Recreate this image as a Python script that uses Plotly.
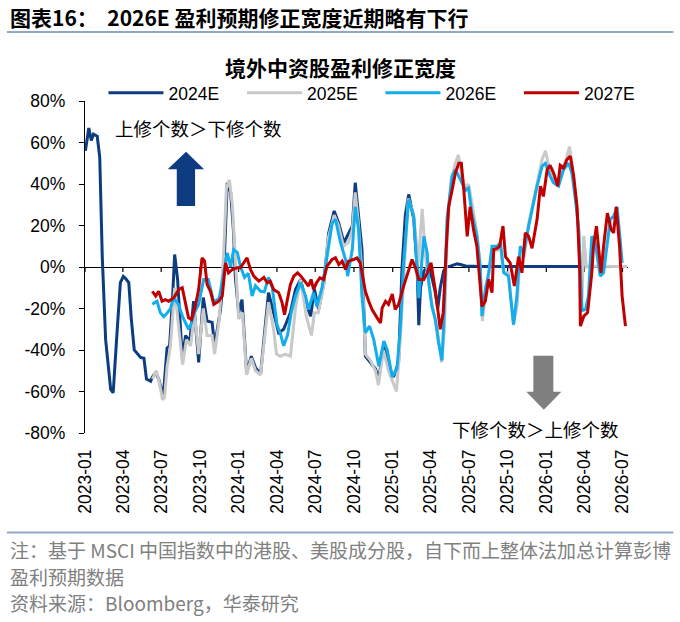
import pandas as pd
import plotly.graph_objects as go

START = pd.Timestamp("2023-01-01")

# ---- data: day offsets from 2023-01-01 and revision breadth values (%) ----
days_2024e = [1, 9, 15, 20, 29, 35, 41, 49, 61, 67, 75, 84, 91, 96, 104, 110, 117, 125, 132, 140,
              146, 156, 160, 168, 175, 179, 186, 195, 201, 208, 213, 220, 231, 239, 249, 258, 270, 281, 290, 302,
              308, 322, 330, 338, 346, 353, 357, 365, 373, 384, 395, 405, 417, 426, 436, 448, 460, 472, 488, 500,
              512, 528, 536, 545, 555, 567, 579, 592, 603, 615, 626, 635, 642, 650, 658, 666, 678, 690, 698, 710,
              721, 733, 745, 753, 761, 769, 781, 789, 793, 797, 805, 813, 824, 832, 838, 844, 852, 858, 868, 884,
              892, 904, 940, 1000, 1060, 1120, 1180, 1240, 1284]
vals_2024e = [56, 67, 61, 64, 63, 53, 5, -35, -59, -60.6, -35, -7.5, -4.6, -5.5, -7.5, -25, -40, -42, -43.6, -44,
              -54, -55, -53, -51, -54, -57, -62, -39, -38, -15, 6, -6, -43.6, -33, -36, -16.5, -46, -14.7, -26, -26.7,
              -38, -20.5, -1.2, 40.6, 36, 16.5, -4.4, -22, -15.7, -51, -43, -48.5, -51.8, -33, -12.4, -22, -31.7, -30, -22, -10.8,
              -6, -19, -23.7, -10.8, -20.5, -8.4, 16.5, 27, 21, 11.7, 16.5, 19.7, 40.6, 26, 8.4, -43, -46, -49, -54, -36.5,
              -47.8, -53, -46, -1, 25, 35, 23, 0, -28, -10, -2, 0, -5, -12, -20, -10, -2, 0, 0.4, 1.5,
              1.2, 0.5, 0.3, 0.3, 0.3, 0.3, 0.3, 0.3, 0.3]

days_2025e = [160, 170, 179, 184, 189, 195, 203, 213, 222, 232, 241, 251, 260, 270, 281, 290, 302, 308, 319, 329,
              336, 343, 350, 357, 365, 374, 384, 395, 405, 417, 426, 436, 448, 455, 464, 476, 488, 500, 512, 526,
              538, 545, 554, 566, 578, 592, 602, 614, 626, 635, 642, 649, 659, 666, 678, 690, 697, 709, 721, 733,
              740, 749, 759, 768, 780, 792, 801, 809, 818, 828, 837, 847, 854, 861, 870, 880, 887, 894, 904, 911,
              920, 932, 939, 944, 951, 958, 968, 980, 987, 994, 1006, 1018, 1027, 1034, 1044, 1053, 1063, 1075, 1086, 1094,
              1105, 1113, 1124, 1136, 1143, 1151, 1158, 1165, 1172, 1177, 1181, 1185, 1191, 1200, 1230, 1260, 1288]
vals_2025e = [-54, -50, -58, -64, -63, -48, -38, -10, -28, -47, -35, -38, -22, -42, -20, -33, -33, -42, -25, 5,
              38, 42, 30, 2, -25, -22, -52, -44, -50, -52, -36, -17, -30, -42, -43, -42, -43, -20, -6, -24,
              -33, -22, -22, -10, 14, 25, 20, 10, 12, 18, 36, 22, -5, -42, -45, -50, -57, -40, -50, -57,
              -60, -35, 2, 33, 26, 2, 28, 5, -10, -22, -30, -46, -30, 20, 42, 50, 54, 45, 38, 40,
              30, 15, 0, -26, -15, -5, 8, 8, 10, -2, -3, -28, -18, 8, 5, 20, 30, 42, 52, 56,
              46, 42, 42, 48, 52, 58, 48, 35, 20, 0, -15, 15, 0, 0.5, 0.3, 0.3, 0.3]

days_2026e = [160, 171, 179, 187, 196, 203, 211, 222, 232, 241, 246, 253, 260, 270, 282, 293, 300, 306, 319, 329,
              338, 346, 353, 362, 369, 379, 388, 397, 405, 417, 426, 436, 445, 456, 464, 472, 481, 490, 500, 512,
              524, 531, 543, 551, 563, 575, 587, 595, 607, 619, 624, 635, 642, 650, 658, 666, 676, 686, 698, 710,
              718, 730, 741, 749, 757, 769, 781, 793, 799, 805, 813, 816, 824, 832, 840, 848, 852, 860, 872, 880,
              892, 904, 911, 919, 931, 939, 943, 951, 959, 967, 979, 987, 995, 1006, 1018, 1026, 1034, 1042, 1054, 1062,
              1074, 1086, 1094, 1105, 1113, 1125, 1137, 1149, 1157, 1165, 1173, 1181, 1189, 1196, 1204, 1212, 1220, 1224, 1232, 1240,
              1248, 1256, 1264, 1272, 1276]
vals_2026e = [-18, -16.5, -22, -24, -22, -20, -15, -18, -24, -28, -30, -27, -22, -18, -6, -6, -12, -17, -15, -3,
              6.8, 0, 8.4, 7, 0.4, -5, -3, -14, -9, -11.7, -12, -5, -10, -27.7, -32, -38, -33, -22, -14, -7.5,
              -14, -20.5, -12.4, -19, -10, 5, 21, 23, 11.7, 3.6, -4.4, 8.4, 29, 18, -14, -31.7, -28.5, -35, -47.8, -35.7,
              -40, -53, -49, -30, 2, 32.5, 24.5, -15, 0, 14.8, 6.8, -6, -19, -25, -36.5, -45, -28.5, 23, 43.8, 47,
              42, 37, 38, 26, 14.8, 0, -23.7, -10.8, -2.8, 10, 10, 11.7, -2.8, -4.4, -27.7, -14, 10, 6.8, 19.7, 27.7,
              39, 48.6, 50, 43.8, 40.6, 39, 47, 50, 45, 32.5, 18, -21, -20.5, -14, 14.8, 11.7, 0, -4.4, -2.8, 11.7,
              23, 24.5, 29, 11.7, 2]

days_2027e = [160, 168, 175, 183, 191, 199, 211, 223, 231, 239, 246, 253, 262, 270, 278, 284, 290, 298, 306, 318,
              326, 334, 341, 350, 361, 369, 377, 385, 393, 401, 413, 425, 433, 440, 448, 460, 468, 474, 480, 488,
              496, 505, 513, 524, 531, 537, 543, 550, 558, 567, 575, 587, 595, 603, 611, 619, 626, 638, 646, 654,
              666, 674, 682, 694, 702, 706, 714, 721, 730, 737, 745, 757, 769, 777, 785, 793, 805, 813, 822, 832,
              844, 851, 858, 864, 872, 880, 888, 894, 900, 908, 915, 923, 931, 943, 951, 959, 967, 971, 979, 985,
              993, 999, 1010, 1020, 1030, 1038, 1046, 1054, 1062, 1074, 1082, 1089, 1098, 1105, 1113, 1123, 1129, 1137, 1145, 1153,
              1161, 1169, 1175, 1177, 1185, 1194, 1204, 1208, 1215, 1224, 1226, 1232, 1241, 1250, 1256, 1262, 1270, 1276, 1284]
vals_2027e = [-11.7, -14, -11.7, -16.5, -15.7, -16.5, -14.8, -10.8, -10, -17, -24.5, -25.3, -19, -10.8, 4.4, 2.8, -8.4, -11.7, -18, -16.5,
              -14, 2, -2.8, -1.2, -0.4, -0.4, 2, 4.4, -1.2, -4.4, -6.8, -5, -7.6, -6.8, -10.8, -12.4, -17, -23, -16.5, -8.4,
              -4.4, -2.8, -4.4, -7.6, -9.2, -6, -10.8, -7.6, -5.2, -6, 0.4, 3.6, 4.4, 1.2, 2.8, -1.2, 2.8, 3.6, 4.4, 2,
              -11.7, -16.5, -20.5, -24.5, -27, -19.7, -16.5, -18, -13, -20.5, -18, -9.2, -1.2, 3.6, -0.4, -6, -6, -2.8, 2, -10.8,
              -30, -22, 8.4, 29, 37, 45.4, 50, 50, 37, 14.8, 29, 18, 10, -19, -16.5, -6, -12.4, 8.4, 9, 10,
              19.7, 5, 2, -9.2, 5, -2.8, 16.5, 14.8, 9, 23, 39, 34, 47, 49, 45.4, 39, 49, 47.8, 51.8, 53.4,
              43.8, 29, 0.4, -28.5, -23.7, -22, -2.8, 10, 19.7, 0.4, -2.8, 10, 26, 18, 16.5, 29, 10, -14, -28.5]

series_names = ["2024E", "2025E", "2026E", "2027E"]
series_colors = ["#0D3C80", "#C9C9C9", "#14ADEB", "#C00000"]
series_days = [days_2024e, days_2025e, days_2026e, days_2027e]
series_vals = [vals_2024e, vals_2025e, vals_2026e, vals_2027e]

tick_labels = ["2023-01", "2023-04", "2023-07", "2023-10", "2024-01", "2024-04", "2024-07", "2024-10",
               "2025-01", "2025-04", "2025-07", "2025-10", "2026-01", "2026-04", "2026-07"]
tick_dates = [t + "-01" for t in tick_labels]
y_ticks = [-80, -60, -40, -20, 0, 20, 40, 60, 80]
y_ticktext = [f"{v}%" for v in y_ticks]

X_RANGE = ["2023-01-01", "2026-07-14"]

LATIN = "Liberation Sans, Arial, Noto Sans CJK SC, sans-serif"
CJK = "Noto Sans CJK SC, Liberation Sans, sans-serif"


def as_dates(days):
    return [(START + pd.Timedelta(days=d)).strftime("%Y-%m-%d") for d in days]


fig = go.Figure()
for name, color, d, v in zip(series_names, series_colors, series_days, series_vals):
    assert len(d) == len(v), (name, len(d), len(v))
    fig.add_trace(go.Scatter(x=as_dates(d), y=v, name=name, mode="lines",
                             line=dict(color=color, width=3), hoverinfo="skip"))

shapes = []
# small tick marks hanging below the zero line at each quarter
for t in tick_dates:
    shapes.append(dict(type="line", xref="x", yref="y", x0=t, x1=t,
                       ysizemode="pixel", yanchor=0, y0=0, y1=-5,
                       line=dict(color="black", width=1.2), layer="below"))
# header and footer rules
for yy in (1.2077, -0.300):
    shapes.append(dict(type="line", xref="paper", yref="paper", x0=-0.1438, x1=1.0837, y0=yy, y1=yy,
                       line=dict(color="#8FA8C8", width=2)))
# up arrow (navy)
shapes.append(dict(type="path", xref="paper", yref="paper",
                   path="M0.1861,0.8474 L0.2193,0.7945 L0.2027,0.7945 L0.2027,0.6840 "
                        "L0.1690,0.6840 L0.1690,0.7945 L0.1524,0.7945 Z",
                   fillcolor="#0D3C80", line=dict(width=0)))
# down arrow (grey)
shapes.append(dict(type="path", xref="paper", yref="paper",
                   path="M0.8257,0.2326 L0.8625,0.2326 L0.8625,0.1243 L0.8773,0.1243 "
                        "L0.8450,0.0701 L0.8128,0.1243 L0.8257,0.1243 Z",
                   fillcolor="#7F7F7F", line=dict(width=0)))

annotations = [
    dict(text="<b>图表16：  2026E 盈利预期修正宽度近期略有下行</b>", xref="paper", yref="paper",
         x=-0.1419, y=1.2528, xanchor="left", yanchor="middle", showarrow=False,
         font=dict(family=CJK, size=21, color="black")),
    dict(text="<b>境外中资股盈利修正宽度</b>", xref="paper", yref="paper",
         x=0.470, y=1.1023, xanchor="center", yanchor="middle", showarrow=False,
         font=dict(family=CJK, size=21, color="black")),
    dict(text="上修个数＞下修个数", xref="paper", yref="paper",
         x=0.2092, y=0.9188, xanchor="center", yanchor="middle", showarrow=False,
         font=dict(family=CJK, size=18.5, color="black")),
    dict(text="下修个数＞上修个数", xref="paper", yref="paper",
         x=0.8303, y=0.0129, xanchor="center", yanchor="middle", showarrow=False,
         font=dict(family=CJK, size=18.5, color="black")),
    dict(text="注：基于 MSCI 中国指数中的港股、美股成分股，自下而上整体法加总计算彭博", xref="paper", yref="paper",
         x=-0.1419, y=-0.3512, xanchor="left", yanchor="middle", showarrow=False,
         font=dict(family=CJK, size=19, color="#808080")),
    dict(text="盈利预期数据", xref="paper", yref="paper",
         x=-0.1419, y=-0.4325, xanchor="left", yanchor="middle", showarrow=False,
         font=dict(family=CJK, size=19, color="#808080")),
    dict(text="资料来源：Bloomberg，华泰研究", xref="paper", yref="paper",
         x=-0.1419, y=-0.5107, xanchor="left", yanchor="middle", showarrow=False,
         font=dict(family=CJK, size=19, color="#808080")),
]

fig.update_layout(
    width=680, height=622,
    margin=dict(l=85, r=52, t=101, b=189, autoexpand=False),
    paper_bgcolor="white", plot_bgcolor="white",
    font=dict(family=LATIN, size=17.5, color="black"),
    showlegend=True,
    legend=dict(orientation="h", x=-0.001, y=1.0241, xanchor="left", yanchor="middle",
                indentation=19,
                font=dict(family=LATIN, size=17.5), itemwidth=55,
                entrywidth=49.5, entrywidthmode="pixels", bgcolor="rgba(0,0,0,0)"),
    xaxis=dict(type="date", range=X_RANGE, tickmode="array", tickvals=tick_dates, ticktext=tick_labels,
               tickangle=-90, showline=False, ticks="", showgrid=False, zeroline=False,
               tickfont=dict(family=LATIN, size=17.5), ticklabelstandoff=12),
    yaxis=dict(range=[-80, 80], tickmode="array", tickvals=y_ticks, ticktext=y_ticktext,
               showline=True, linecolor="black", linewidth=1.2, ticks="outside", ticklen=5,
               tickcolor="black", tickwidth=1.2, showgrid=False, zeroline=True,
               zerolinecolor="black", zerolinewidth=1.2,
               tickfont=dict(family=LATIN, size=17.5), ticklabelstandoff=10),
    shapes=shapes,
    annotations=annotations,
)

fig.write_html("out.html")
